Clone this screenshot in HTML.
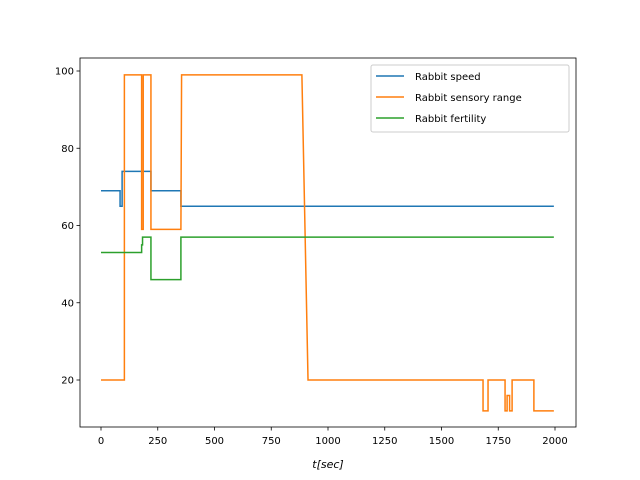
<!DOCTYPE html>
<html><head><meta charset="utf-8"><style>body{margin:0;background:#fff}svg{display:block;font-family:"DejaVu Sans","Liberation Sans",sans-serif}</style></head>
<body>
<svg width="640" height="480" id="c"></svg>
<script>
const xTicks=[0,250,500,750,1000,1250,1500,1750,2000];
const yTicks=[20,40,60,80,100];
const speedT=[0,84,84,93,93,220,220,352,352,1995];
const speedV=[69,69,65,65,74,74,69,69,65,65];
const rangeT=[0,103,103,179,179,186,186,220,220,352,355,885,912,1683,1683,1705,1705,1780,1780,1789,1789,1800,1800,1811,1811,1907,1907,1995];
const rangeV=[20,20,99,99,59,59,99,99,59,59,99,99,20,20,12,12,20,20,12,12,16,16,12,12,20,20,12,12];
const fertT=[0,179,179,183,183,220,220,352,352,1995];
const fertV=[53,53,55,55,57,57,46,46,57,57];
const seriesNames=["Rabbit speed","Rabbit sensory range","Rabbit fertility"];
const colors=["#1f77b4","#ff7f0e","#2ca02c"];
const L=80,R=576,T=58,B=427;
const X=t=>101+t*0.227;
const Y=v=>380-(v-20)*3.8625;
const svg=document.getElementById('c');const NS="http://www.w3.org/2000/svg";
function el(tag,attrs,parent){const e=document.createElementNS(NS,tag);for(const k in attrs)e.setAttribute(k,attrs[k]);(parent||svg).appendChild(e);return e;}
const series=[[speedT,speedV],[rangeT,rangeV],[fertT,fertV]];
series.forEach((s,i)=>{
  const p=el('polyline',{points:s[0].map((t,j)=>X(t)+','+Y(s[1][j])).join(' '),fill:'none',stroke:colors[i],'stroke-width':1.5});
  
  
});
const frame=el('rect',{x:L,y:T,width:R-L,height:B-T,fill:'none',stroke:'#000','stroke-width':0.8});


xTicks.forEach(t=>{
  el('line',{x1:X(t),x2:X(t),y1:B,y2:B+3.5,stroke:'#000','stroke-width':0.8});
  const tx=el('text',{x:X(t),y:B+17,'font-size':10,'text-anchor':'middle'});tx.textContent=t;
  
  
});
yTicks.forEach(v=>{
  el('line',{x1:L-3.5,x2:L,y1:Y(v),y2:Y(v),stroke:'#000','stroke-width':0.8});
  const tx=el('text',{x:L-6,y:Y(v)+3.5,'font-size':10,'text-anchor':'end'});tx.textContent=v;
  
  
});
const xl=el('text',{x:328,y:468,'font-size':11,'text-anchor':'middle','font-style':'italic'});xl.textContent='t[sec]';


const lg=el('g',{});


el('rect',{x:371,y:65,width:198,height:67,rx:2,fill:'#fff','fill-opacity':0.8,stroke:'#ccc'},lg);
seriesNames.forEach((n,i)=>{
  const y=76+i*21;
  el('line',{x1:376,x2:404,y1:y,y2:y,stroke:colors[i],'stroke-width':1.5},lg);
  const tx=el('text',{x:415,y:y+4,'font-size':10},lg);tx.textContent=n;
  
  
});
</script>
</body></html>
